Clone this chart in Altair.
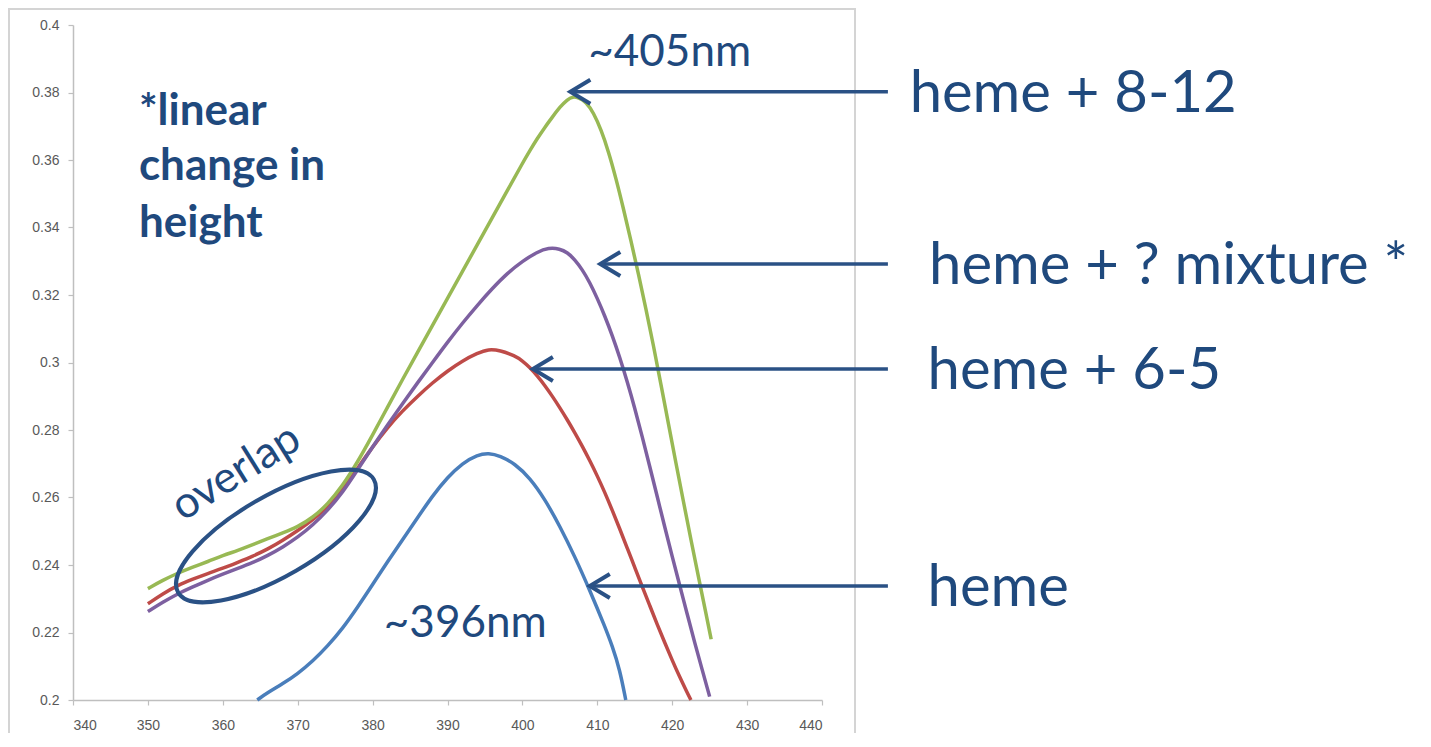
import altair as alt
import pandas as pd

# ---------------- data ----------------
heme_x = [364.6, 366, 368, 370, 372, 374, 376, 378, 380, 382, 384, 386, 388, 390, 392, 394,
          395.5, 397, 399, 401, 403, 405, 407, 409, 411, 412, 413, 413.8]
heme_y = [0.2000, 0.2022, 0.2048, 0.2078, 0.2115, 0.2160, 0.2212, 0.2275, 0.2342, 0.2410,
          0.2475, 0.2540, 0.2605, 0.2660, 0.2702, 0.2727, 0.2732, 0.2724, 0.2700, 0.2658,
          0.2595, 0.2515, 0.2425, 0.2325, 0.2218, 0.2160, 0.2090, 0.2000]

h65_x = [350, 352, 354, 356, 358, 360, 362, 364, 366, 368, 370, 372, 374, 376, 378, 380, 382,
         384, 386, 388, 390, 392, 394, 395.5, 397, 399, 400, 401, 402, 403, 404, 405, 406, 407,
         408, 409, 410, 411, 412, 413, 414, 415, 416, 417, 418, 419, 420, 421, 422, 422.5]
h65_y = [0.2285, 0.2315, 0.2340, 0.2358, 0.2375, 0.2390, 0.2408, 0.2426, 0.2447, 0.2473,
         0.2502, 0.2533, 0.2572, 0.2624, 0.2687, 0.2750, 0.2808, 0.2857, 0.2900, 0.2940,
         0.2975, 0.3005, 0.3028, 0.3040, 0.3036, 0.3020, 0.3005, 0.2985, 0.2960, 0.2932,
         0.2900, 0.2866, 0.2830, 0.2792, 0.2752, 0.2709, 0.2664, 0.2615, 0.2562, 0.2507,
         0.2450, 0.2393, 0.2336, 0.2280, 0.2224, 0.2170, 0.2118, 0.2068, 0.2022, 0.2000]

mix_x = [350, 352, 354, 356, 358, 360, 362, 364, 366, 368, 370, 372, 374, 376, 378, 380, 382,
         384, 386, 388, 390, 392, 394, 396, 398, 400, 402, 403.5, 405, 406, 407, 408, 409, 410,
         411, 412, 413, 414, 415, 416, 417, 418, 419, 420, 421, 422, 423, 424, 425]
mix_y = [0.2262, 0.2290, 0.2315, 0.2335, 0.2355, 0.2373, 0.2390, 0.2407, 0.2428, 0.2453,
         0.2482, 0.2518, 0.2562, 0.2615, 0.2682, 0.2750, 0.2815, 0.2878, 0.2940, 0.3000,
         0.3060, 0.3117, 0.3170, 0.3220, 0.3265, 0.3300, 0.3328, 0.3340, 0.3337, 0.3326,
         0.3305, 0.3275, 0.3237, 0.3190, 0.3138, 0.3080, 0.3015, 0.2943, 0.2865, 0.2780,
         0.2692, 0.2603, 0.2513, 0.2425, 0.2340, 0.2255, 0.2170, 0.2090, 0.2010]

h812_x = [350, 352, 354, 356, 358, 360, 362, 364, 366, 368, 370, 372, 374, 376, 378, 380, 382,
          384, 386, 388, 390, 392, 394, 396, 398, 400, 401, 402, 403, 404, 405, 406, 406.7,
          407.5, 408.5, 409.5, 410.5, 411.5, 412.5, 413.5, 414.5, 415.5, 416.5, 417.5, 418.5,
          419.5, 420.5, 421.5, 422.5, 423.5, 424.5, 425.2]
h812_y = [0.2330, 0.2355, 0.2376, 0.2394, 0.2410, 0.2428, 0.2443, 0.2460, 0.2478, 0.2495,
          0.2513, 0.2540, 0.2580, 0.2635, 0.2705, 0.2785, 0.2868, 0.2950, 0.3030, 0.3110,
          0.3190, 0.3270, 0.3350, 0.3430, 0.3510, 0.3590, 0.3628, 0.3664, 0.3697, 0.3727,
          0.3757, 0.3779, 0.3788, 0.3785, 0.3772, 0.3740, 0.3690, 0.3625, 0.3545, 0.3455,
          0.3360, 0.3262, 0.3158, 0.3050, 0.2935, 0.2818, 0.2702, 0.2588, 0.2475, 0.2365,
          0.2258, 0.2180]

series_names = ["heme", "heme + 6-5", "heme + ? mixture", "heme + 8-12"]
series_colors = ["#4A7EBB", "#BE4B48", "#7D60A0", "#98B954"]

x_ticks = [340, 350, 360, 370, 380, 390, 400, 410, 420, 430, 440]
y_ticks = [0.2, 0.22, 0.24, 0.26, 0.28, 0.3, 0.32, 0.34, 0.36, 0.38, 0.4]

# arrows: label, tip wavelength, arrow tail wavelength, absorbance level, label start
arrow_labels = ["heme + 8-12", "heme + ? mixture *", "heme + 6-5", "heme"]
arrow_tip = [406.4, 410.4, 401.4, 409.0]
arrow_tail = [448.8, 448.8, 448.8, 448.8]
arrow_level = [0.3802, 0.3292, 0.2981, 0.2338]
label_start = [451.7, 454.3, 454.1, 454.1]

peak_texts = ["~405nm", "~396nm"]
peak_x = [408.8, 381.5]
peak_y = [0.3879, 0.2187]

note_lines = ["*linear", "change in", "height"]
note_x = [348.8, 348.8, 348.8]
note_y = [0.3704, 0.3541, 0.3372]

# ---------------- build tables ----------------
rows = []
for name, xs, ys in [(series_names[0], heme_x, heme_y), (series_names[1], h65_x, h65_y),
                     (series_names[2], mix_x, mix_y), (series_names[3], h812_x, h812_y)]:
    for xv, yv in zip(xs, ys):
        rows.append({"series": name, "wl": xv, "ab": yv})
curves = pd.DataFrame(rows)

arrows = pd.DataFrame({"label": arrow_labels, "wl": arrow_tip, "wl2": arrow_tail,
                       "ab": arrow_level, "lx": label_start})
peaks = pd.DataFrame({"t": peak_texts, "wl": peak_x, "ab": peak_y})
notes = pd.DataFrame({"t": note_lines, "wl": note_x, "ab": note_y})
overlap = pd.DataFrame({"t": ["overlap"], "wl": [361.8], "ab": [0.2673]})
ellipse = pd.DataFrame({"wl": [367.1], "ab": [0.2486]})

TXT = "#1F497D"
ARW = "#2A5185"

xscale = alt.Scale(domain=[340, 440], nice=False, zero=False)
yscale = alt.Scale(domain=[0.2, 0.4], nice=False, zero=False)
xaxis = alt.Axis(values=x_ticks, title=None, grid=False, domainColor="#BFBFBF", domainWidth=1.5,
                 tickColor="#BFBFBF", tickSize=5, tickWidth=1.2, labelColor="#595959",
                 labelFont="Liberation Sans", labelFontSize=14, labelPadding=13)
yaxis = alt.Axis(values=y_ticks, format=".2~f", title=None, grid=False, domainColor="#BFBFBF",
                 domainWidth=1.5, tickColor="#BFBFBF", tickSize=5, tickWidth=1.2,
                 labelColor="#595959", labelFont="Liberation Sans", labelFontSize=14,
                 labelPadding=9)

X = alt.X("wl:Q", scale=xscale, axis=xaxis)
Y = alt.Y("ab:Q", scale=yscale, axis=yaxis)

frame = alt.Chart(pd.DataFrame({"a": [0]})).mark_rect(
    fill=None, stroke="#D4D4D4", strokeWidth=2
).encode(x=alt.value(-64), x2=alt.value(782), y=alt.value(-16), y2=alt.value(720))

lines = alt.Chart(curves).mark_line(strokeWidth=3.5, interpolate="basis").encode(
    x=X, y=Y,
    color=alt.Color("series:N", scale=alt.Scale(domain=series_names, range=series_colors),
                    legend=None),
)

shafts = alt.Chart(arrows).mark_rule(color=ARW, strokeWidth=3.5).encode(
    x=X, x2=alt.X2("wl2"), y=Y)

heads = alt.Chart(arrows).mark_point(
    shape="M2,-1.2L0,0L2,1.2", size=400, filled=False, color=ARW, strokeWidth=4,
    opacity=1, strokeJoin="miter"
).encode(x=X, y=Y)

labels = alt.Chart(arrows).mark_text(
    align="left", baseline="alphabetic", dy=20, font="Lato", fontSize=58, color=TXT
).encode(x=alt.X("lx:Q", scale=xscale, axis=xaxis), y=Y, text="label:N")

peak_lbl = alt.Chart(peaks).mark_text(
    align="left", baseline="alphabetic", font="Lato", fontSize=44, color=TXT
).encode(x=X, y=Y, text="t:N")

note_lbl = alt.Chart(notes).mark_text(
    align="left", baseline="alphabetic", font="Lato", fontSize=44, fontWeight="bold", color=TXT
).encode(x=X, y=Y, text="t:N")

overlap_lbl = alt.Chart(overlap).mark_text(
    align="center", baseline="middle", font="Lato", fontSize=44, angle=328, color=TXT
).encode(x=X, y=Y, text="t:N")

ELLIPSE = ("M-1,0C-1,-0.196,-0.552,-0.355,0,-0.355C0.552,-0.355,1,-0.196,1,0"
           "C1,0.196,0.552,0.355,0,0.355C-0.552,0.355,-1,0.196,-1,0Z")
ell = alt.Chart(ellipse).mark_point(
    shape=ELLIPSE, size=51076, filled=False, color=ARW, strokeWidth=4, opacity=1, angle=330
).encode(x=X, y=Y)

chart = alt.layer(frame, lines, shafts, heads, labels, peak_lbl, note_lbl, overlap_lbl, ell).properties(
    width=749, height=675,
    autosize=alt.AutoSizeParams(type="none"),
    padding={"left": 65, "top": 17, "right": 600, "bottom": 33},
    background="white",
).configure_view(stroke=None)

chart.save("out.html", embed_options={"renderer": "svg", "actions": False})
